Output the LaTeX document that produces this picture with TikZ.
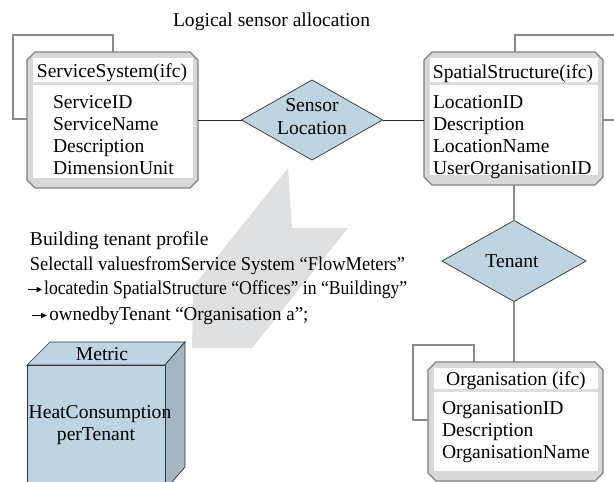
\documentclass[tikz,border=0pt]{standalone}
\usepackage{fontspec}
\setmainfont{Liberation Serif}
\usetikzlibrary{shapes.geometric,arrows.meta}
\definecolor{bandgray}{HTML}{D8D8D8}
\definecolor{framegray}{HTML}{808080}
\definecolor{stripegray}{HTML}{DDDDDD}
\definecolor{linegray}{HTML}{8A8A8A}
\definecolor{arrowgray}{HTML}{DFE0E2}
\definecolor{lightblue}{HTML}{BDD4E2}
\definecolor{sideblue}{HTML}{A3B6C2}
\newcommand\ifcbox[5]{%
  \draw[frameline,fill=bandgray] (#1+8,#2) -- (#3-8,#2) -- (#3,#2+8) -- (#3,#4-8) -- (#3-8,#4) -- (#1+8,#4) -- (#1,#4-8) -- (#1,#2+8) -- cycle;
  \fill[white] (#1+6,#2+6) rectangle (#3-5,#4-10);
  \draw[stripe] (#1+6,#5) -- (#3-5,#5);}
\newcommand\rarrow{\tikz[baseline=-0.5ex]\draw[line width=0.9pt,-{Triangle[length=6pt,width=5pt]}] (0pt,0pt)--(15pt,0pt);\hspace{2pt}}
\begin{document}
\begin{tikzpicture}[x=1pt,y=-1pt,
  every node/.style={font=\fontsize{19.6}{22}\selectfont, inner sep=0pt, outer sep=0pt},
  frameline/.style={draw=framegray, line width=1.3pt},
  stripe/.style={draw=stripegray, line width=3pt},
  anchorbox/.style={rectangle, draw=none},
  blackline/.style={draw=black!85, line width=0.9pt},
  grayline/.style={draw=linegray, line width=1.6pt},
  rel/.style={diamond, draw=black!80, line width=0.7pt, fill=lightblue},
  attr/.style={anchor=base west},
  head/.style={anchor=base}]
\useasboundingbox (0,0) rectangle (614,482);
\clip (0,0) rectangle (614,482);

% big gray arrow
\fill[arrowgray] (288,168) -- (292,228) -- (348,228) -- (252,348) -- (192,348) -- (193,287) -- cycle;

% anchor nodes
\node[anchorbox, minimum width=171pt, minimum height=136pt] (ss) at (112.5,120) {};
\node[anchorbox, minimum width=179pt, minimum height=133pt] (sp) at (513.5,118.5) {};
\node[anchorbox, minimum width=175pt, minimum height=119pt] (org) at (515.5,421.5) {};
\node[rel, minimum width=141pt, minimum height=80pt] (sl) at (312,120) {};
\node[rel, minimum width=144pt, minimum height=81pt] (tn) at (514,261) {};

% self loops
\coordinate (ssA) at (113,35); \coordinate (ssB) at (13,119);
\draw[grayline] (ssA |- ss.north) -- (ssA) -| (ssB) -- (ss.west |- ssB);
\coordinate (spA) at (515,35); \coordinate (spE1) at (616,35); \coordinate (spE2) at (616,120);
\draw[grayline] (spA |- sp.north) -- (spA) -- (spE1);
\draw[grayline] (sp.east |- spE2) -- (spE2);
\coordinate (orgA) at (474,345); \coordinate (orgB) at (413,420);
\draw[grayline] (orgA |- org.north) -- (orgA) -| (orgB) -- (org.west |- orgB);

% boxes
\ifcbox{27}{52}{198}{188}{83}
\ifcbox{424}{52}{603}{185}{83}
\ifcbox{428}{362}{603}{481}{390}

% connectors
\draw[blackline] (ss.east |- sl.west) -- (sl.west);
\draw[blackline] (sl.east) -- (sl.east -| sp.west);
\draw[grayline] (tn.north |- sp.south) -- (tn.north);
\draw[grayline] (tn.south) -- (tn.south |- org.north);

% texts in boxes
\node[head] at (112,77) {ServiceSystem(ifc)};
\node[attr] at (53,108) {ServiceID};
\node[attr] at (53,130) {ServiceName};
\node[attr] at (53,152) {Description};
\node[attr] at (53,174) {DimensionUnit};

\node[head] at (513,78) {SpatialStructure(ifc)};
\node[attr] at (433,108) {LocationID};
\node[attr] at (433,130) {Description};
\node[attr] at (433,152) {LocationName};
\node[attr] at (433,174) {UserOrganisationID};

\node[head] at (516,385) {Organisation (ifc)};
\node[attr] at (442,414) {OrganisationID};
\node[attr] at (442,436) {Description};
\node[attr] at (442,458) {OrganisationName};

\node[head] at (sl.center |- 0,111) {Sensor};
\node[head] at (sl.center |- 0,134) {Location};
\node[head] at (512,267) {Tenant};

% title
\node[attr] (title) at (173,26) {Logical sensor allocation};

% query text
\node[attr] (q0) at (30,245) {Building tenant profile};
\node[attr, xscale=0.94] (q1) at (30,270) {Selectall valuesfromService System “FlowMeters”};
\node[attr, xscale=0.90] (q2) at (28,294) {\rarrow locatedin SpatialStructure “Offices” in “Buildingy”};
\node[attr, xscale=0.97] (q3) at (32,320) {\rarrow ownedbyTenant “Organisation a”;};

% metric cube
\draw[draw=black!80, line width=0.7pt, fill=lightblue] (27,365) -- (50,342) -- (185,342) -- (165,365) -- cycle;
\draw[draw=black!80, line width=0.7pt, fill=sideblue] (165,365) -- (185,342) -- (185,467) -- (165,490) -- cycle;
\draw[draw=black!80, line width=0.7pt, fill=lightblue] (27,365) rectangle (165,490);
\node[head] (metric) at (102,360) {Metric};
\node[head] at (100,418) {HeatConsumption};
\node[head] at (96,440) {perTenant};
\end{tikzpicture}
\end{document}
